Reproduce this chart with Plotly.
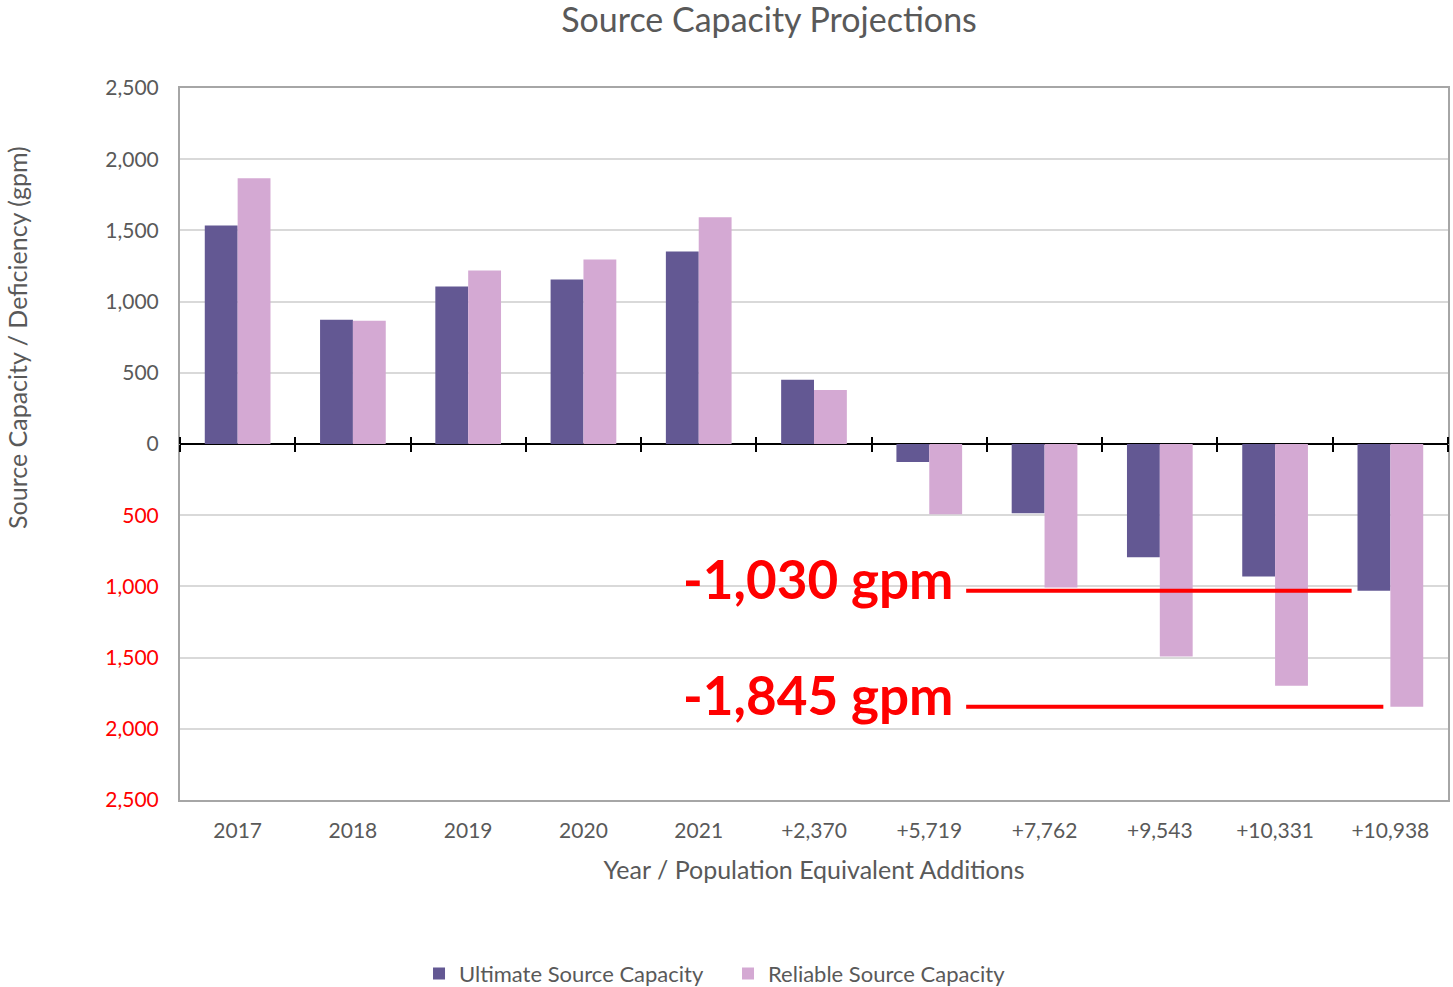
import plotly.graph_objects as go

categories = ["2017", "2018", "2019", "2020", "2021", "+2,370", "+5,719",
              "+7,762", "+9,543", "+10,331", "+10,938"]
ultimate = [1535, 873, 1106, 1155, 1352, 451, -127, -486, -796, -930, -1030]
reliable = [1866, 866, 1218, 1296, 1592, 380, -493, -1007, -1493, -1697, -1845]
ytick_vals = [-2500, -2000, -1500, -1000, -500, 0, 500, 1000, 1500, 2000, 2500]
callouts = [(-1030, "-1,030 gpm", 0.924), (-1845, "-1,845 gpm", 0.949)]

ytick_text = [
    f"<span style='color:#FF0000'>{abs(v):,}</span>" if v < 0 else f"{v:,}"
    for v in ytick_vals
]

FONT = "Lato"
GREY = "#595959"

fig = go.Figure()
fig.add_trace(go.Bar(x=categories, y=ultimate, name="Ultimate Source Capacity",
                     marker=dict(color="#635893", line=dict(width=0))))
fig.add_trace(go.Bar(x=categories, y=reliable, name="Reliable Source Capacity",
                     marker=dict(color="#D4A9D3", line=dict(width=0))))

# invisible helper traces that carry the zero-line axes with crossing ticks
for ax in ("x2", "x3"):
    fig.add_trace(go.Scatter(x=categories, y=[0] * len(categories), xaxis=ax,
                             mode="none", showlegend=False, hoverinfo="skip"))

zero_axis = dict(overlaying="x", anchor="free", position=0.5, type="category",
                 categoryarray=categories, categoryorder="array",
                 range=[-0.5, 10.5], tickson="boundaries", ticks="outside",
                 ticklen=7, tickwidth=2, tickcolor="black", showticklabels=False,
                 showline=False, showgrid=False, zeroline=False, automargin=False)

fig.update_layout(
    width=1453, height=987,
    paper_bgcolor="white", plot_bgcolor="white",
    margin=dict(l=180, r=5, t=88, b=187, autoexpand=False),
    barmode="group", bargap=0.43, bargroupgap=0,
    font=dict(family=FONT, color=GREY, size=20),
    title=dict(text="Source Capacity Projections", x=0.4645, xref="paper",
               xanchor="center", y=0.9797, yref="container", yanchor="middle",
               font=dict(size=34, color=GREY, family=FONT)),
    legend=dict(orientation="h", x=0.1885, xref="paper", xanchor="left",
                y=-0.244, yanchor="middle", font=dict(size=22, color=GREY),
                itemwidth=30, entrywidth=264, entrywidthmode="pixels",
                traceorder="normal"),
    xaxis=dict(type="category", showline=True, mirror=True, linecolor="#A6A6A6",
               linewidth=2, ticks="", tickfont=dict(size=21, color=GREY),
               ticklabelstandoff=11, automargin=False,
               title=dict(text="Year / Population Equivalent Additions",
                          font=dict(size=25, color=GREY), standoff=20),
               range=[-0.5, 10.5]),
    yaxis=dict(range=[-2500, 2500], tickvals=ytick_vals, ticktext=ytick_text,
               showgrid=True, gridcolor="#D9D9D9", gridwidth=2,
               showline=True, mirror=True, linecolor="#A6A6A6", linewidth=2,
               zeroline=True, zerolinecolor="black", zerolinewidth=2,
               tickfont=dict(size=21, color=GREY), ticks="", ticklabelstandoff=15,
               automargin=False),
    xaxis2=dict(side="bottom", **zero_axis),
    xaxis3=dict(side="top", **zero_axis),
)

fig.add_annotation(text="Source Capacity / Deficiency (gpm)", textangle=-90,
                   xref="paper", yref="paper", x=-0.1285, y=0.649,
                   xanchor="center", yanchor="middle",
                   showarrow=False, font=dict(size=25, color=GREY))

for val, label, x_end in callouts:
    fig.add_shape(type="line", xref="paper", yref="y", x0=0.62, x1=x_end,
                  y0=val, y1=val, line=dict(color="#FF0000", width=4))
    fig.add_annotation(text=f"<b>{label}</b>", xref="paper", yref="y",
                       x=0.612, y=val, xanchor="right", yanchor="middle",
                       yshift=12, showarrow=False,
                       font=dict(size=53, color="#FF0000", family=FONT, weight=900))

fig.write_html(
    "out.html",
    config={"displayModeBar": False},
    post_script="document.body.style.margin='0px';"
                "document.body.style.overflow='hidden';",
)
